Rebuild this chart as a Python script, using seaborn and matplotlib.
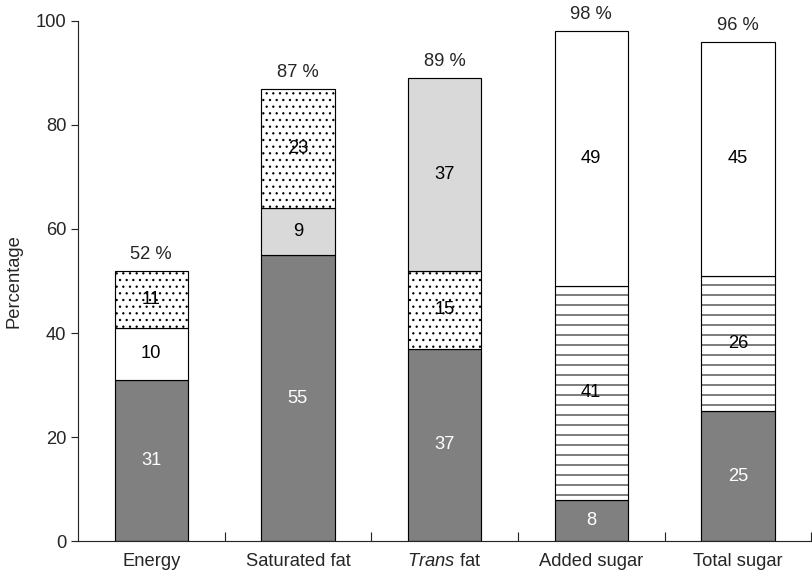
import matplotlib
matplotlib.use('Agg')
import matplotlib.pyplot as plt
import seaborn as sns
import numpy as np

categories = ['Energy', 'Saturated fat', 'Trans fat', 'Added sugar', 'Total sugar']
tick_labels = ['Energy', 'Saturated fat', r'$\it{Trans}$ fat', 'Added sugar', 'Total sugar']
seg_bottom = [31, 55, 37, 8, 25]
seg_middle = [10, 9, 15, 41, 26]
seg_top = [11, 23, 37, 49, 45]
fill_bottom = ['dark', 'dark', 'dark', 'dark', 'dark']
fill_middle = ['white', 'light', 'dots', 'lines', 'lines']
fill_top = ['dots', 'dots', 'light', 'white', 'white']
totals = [52, 87, 89, 98, 96]

sns.set_style('ticks')
plt.rcParams['font.family'] = ['Liberation Sans', 'DejaVu Sans']
plt.rcParams['mathtext.fontset'] = 'custom'
plt.rcParams['mathtext.it'] = 'Liberation Sans:italic'
plt.rcParams['mathtext.rm'] = 'Liberation Sans'
plt.rcParams['hatch.linewidth'] = 0.6
plt.rcParams['hatch.color'] = '#333333'

# face colour, hatch, hatch colour
styles = {
    'dark': ('#808080', None, None),
    'light': ('#d9d9d9', None, None),
    'white': ('white', None, None),
    'dots': ('white', '...', '#444444'),
    'lines': ('white', '--', '#111111'),
}

fs = 11
fig = plt.figure(figsize=(812 / 120, 580 / 120), dpi=120)
ax = fig.add_axes([0.096, 0.067, 0.903, 0.897])

layers = [(seg_bottom, fill_bottom), (seg_middle, fill_middle), (seg_top, fill_top)]
base = np.zeros(len(categories))
for vals, fills in layers:
    n0 = len(ax.patches)
    sns.barplot(x=categories, y=vals, bottom=base, width=0.5, errorbar=None,
                color='white', edgecolor='black', linewidth=0.7, ax=ax)
    for p, f, v, b in zip(ax.patches[n0:], fills, vals, base):
        fc, hatch, hc = styles[f]
        p.set_facecolor(fc)
        if hatch:
            p.set_hatch(hatch)
            if hasattr(p, 'set_hatchcolor'):
                p.set_hatchcolor(hc)
        tc = 'white' if f == 'dark' else 'black'
        ax.text(p.get_x() + p.get_width() / 2, b + v / 2, str(v), ha='center',
                va='center', fontsize=fs, color=tc)
    base = base + np.array(vals)

for i, t in enumerate(totals):
    ax.text(i, t + 1.5, f'{t} %', ha='center', va='bottom', fontsize=fs)

ax.set_xlim(-0.5, 4.5)
ax.set_ylim(0, 100)
ax.set_yticks([0, 20, 40, 60, 80, 100])
ax.set_xticks([0.5, 1.5, 2.5, 3.5, 4.5])
ax.set_xticklabels([])
ax.set_xticks(range(5), minor=True)
ax.set_xticklabels(tick_labels, minor=True, fontsize=fs)
ax.tick_params(axis='x', which='major', direction='in', length=5.5, width=0.7)
ax.tick_params(axis='x', which='minor', length=0, pad=7)
ax.tick_params(axis='y', direction='out', length=4, width=0.7, labelsize=fs, pad=3)
ax.set_ylabel('Percentage', fontsize=fs, labelpad=8)
sns.despine(ax=ax)
for s in ['left', 'bottom']:
    ax.spines[s].set_linewidth(0.7)
ax.set_xlabel('')

fig.savefig('out.png', dpi=120)
